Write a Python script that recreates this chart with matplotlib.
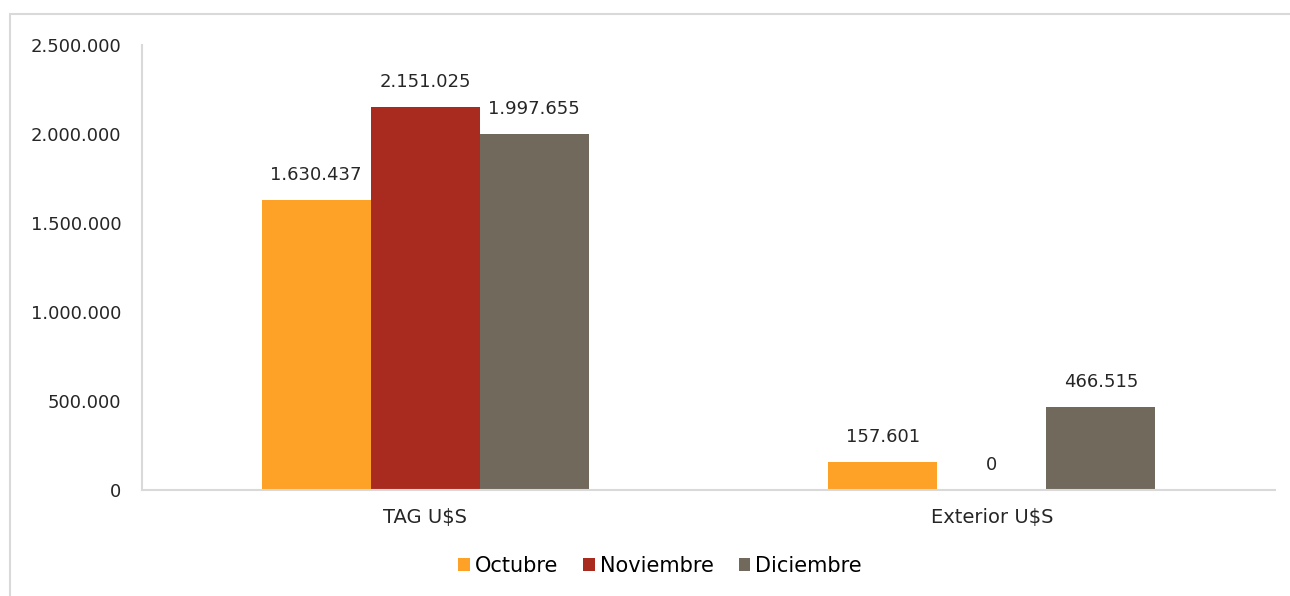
import matplotlib
matplotlib.use("Agg")
import matplotlib.pyplot as plt
from matplotlib.patches import Rectangle
import numpy as np

categories = ["TAG U$S", "Exterior U$S"]
series = ["Octubre", "Noviembre", "Diciembre"]
octubre = [1630437, 157601]
noviembre = [2151025, 0]
diciembre = [1997655, 466515]
yticks = [0, 500000, 1000000, 1500000, 2000000, 2500000]

colors = ["#FEA127", "#A92B1F", "#71695C"]

def fmt(v):
    return f"{int(v):,}".replace(",", ".")

plt.rcParams['font.family'] = ['DejaVu Sans']

W, H = 1290, 596
fig = plt.figure(figsize=(W / 100, H / 100), dpi=100)
fig.patches.append(Rectangle((10 / W, -0.1), 1.2, (H - 14) / H + 0.1,
                             transform=fig.transFigure, fill=False,
                             edgecolor="#D9D9D9", linewidth=1.5))

ax = fig.add_axes([142 / W, 1 - 490 / H, (1275 - 142) / W, (490 - 45) / H])
x = np.arange(len(categories))
bw = 0.1925
vals = [octubre, noviembre, diciembre]
for i, (name, v, c) in enumerate(zip(series, vals, colors)):
    pos = x + (i - 1) * bw
    ax.bar(pos, v, width=bw, color=c, label=name)
    for px, pv in zip(pos, v):
        ax.annotate(fmt(pv), (px, pv), xytext=(0, 18), textcoords="offset points",
                    ha="center", va="center", fontsize=13, color="#262626")

ax.set_xlim(-0.5, 1.5)
ax.set_ylim(0, 2500000)
ax.set_yticks(yticks)
ax.set_yticklabels([fmt(t) for t in yticks], fontsize=13, color="#262626")
ax.set_xticks(x)
ax.set_xticklabels(categories, fontsize=14, color="#262626")
ax.tick_params(axis="both", length=0)
ax.tick_params(axis="y", pad=15)
ax.tick_params(axis="x", pad=13)
for s in ["top", "right"]:
    ax.spines[s].set_visible(False)
for s in ["left", "bottom"]:
    ax.spines[s].set_color("#D9D9D9")
    ax.spines[s].set_linewidth(1.5)

fig.legend(loc="center", bbox_to_anchor=(660 / W, 1 - 566 / H), ncol=3,
           frameon=False, fontsize=15, handlelength=0.55, handleheight=0.55,
           handletextpad=0.25, columnspacing=1.2)

fig.savefig("out.png", dpi=100)
